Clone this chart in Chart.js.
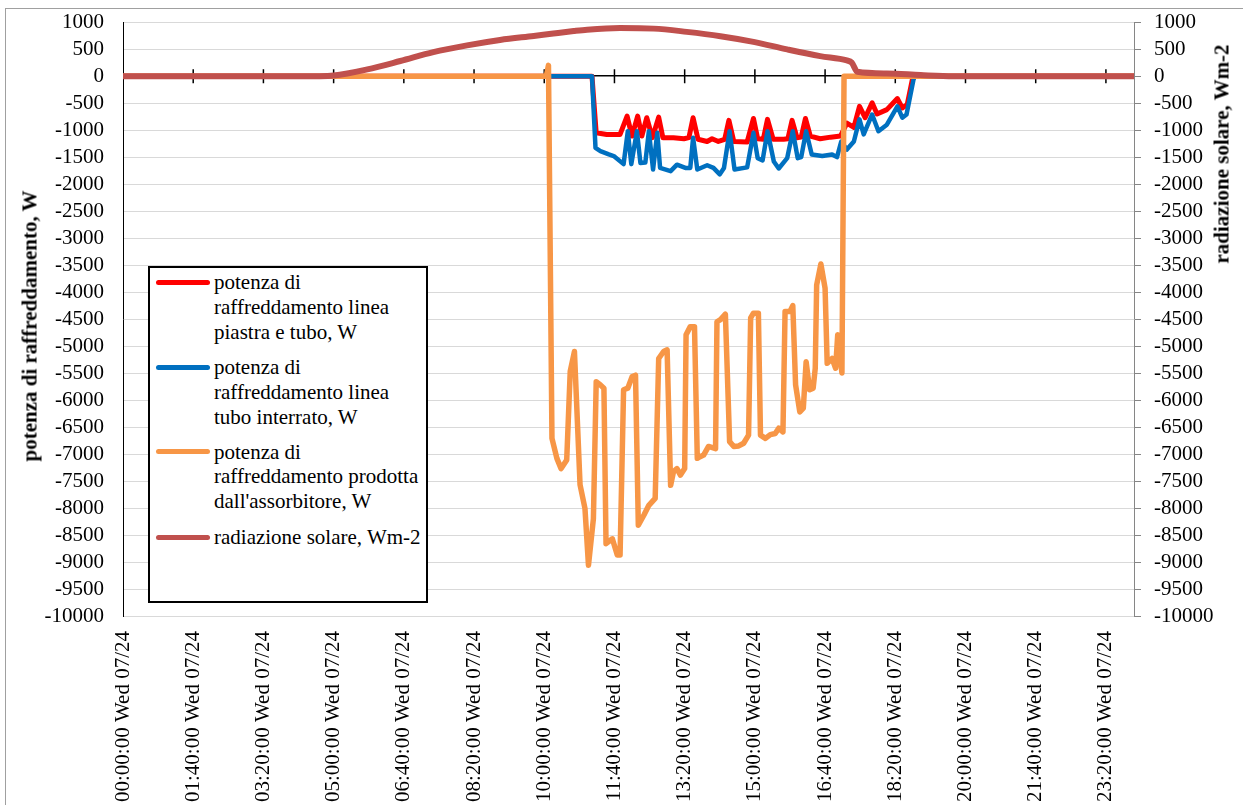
<!DOCTYPE html>
<html>
<head>
<meta charset="utf-8">
<script src="https://cdn.jsdelivr.net/npm/chart.js@4.4.1/dist/chart.umd.min.js"></script>
<style>
    html, body { margin: 0; padding: 0; background: #fff; overflow: hidden; }
    #wrap { position: relative; width: 1243px; height: 805px; overflow: hidden;
        font-family: 'Liberation Serif', 'Times New Roman', serif; color: #000; }
    #frame { position: absolute; left: 5px; top: 8px; width: 1400px; height: 1000px;
        border: 1.5px solid #a0a0a0; }
    #chart { position: absolute; left: 0; top: 0; width: 1243px; height: 805px; }
    .axis-title { position: absolute; font-weight: bold; font-size: 21px; white-space: nowrap;
        transform: translate(-50%, -50%) rotate(-90deg); }
    #legend { position: absolute; left: 148px; top: 266px; width: 280px; height: 337px;
        box-sizing: border-box; border: 2px solid #000; background: #fff; }
    #legend .sample { position: absolute; left: 6px; width: 54px; height: 5px; border-radius: 3px; }
    #legend .text { position: absolute; left: 64px; font-size: 21px; line-height: 24.7px; white-space: nowrap; }
</style>
</head>
<body>
<div id="wrap">
    <div id="frame"></div>
    <canvas id="chart" width="1243" height="805"></canvas>
    <div class="axis-title" style="left:30px; top:326px;">potenza di raffreddamento, W</div>
    <div class="axis-title" style="left:1222px; top:154px;">radiazione solare, Wm-2</div>
    <div id="legend"></div>
</div>
<script>
// minutes since 00:00, value
const redSeries = [
    [0, 0], [668, 0], [674, -1050], [689, -1080], [708, -1080], [718, -740], [725, -1110],
    [733, -740], [739, -1110], [746, -770], [754, -1140], [763, -760], [769, -1140],
    [784, -1140], [799, -1160], [806, -1140], [812, -770], [819, -1170], [832, -1210],
    [839, -1160], [848, -1210], [857, -1170], [863, -820], [870, -1210], [889, -1220],
    [898, -785], [904, -1160], [912, -1170], [918, -800], [926, -1170], [941, -1170],
    [947, -1160], [953, -820], [960, -1140], [966, -1130], [972, -785], [979, -1110],
    [993, -1160], [1008, -1130], [1022, -1110], [1031, -870], [1041, -950], [1049, -560],
    [1057, -770], [1067, -495], [1074, -700], [1088, -620], [1103, -415], [1110, -590],
    [1117, -525], [1124, -80], [1127, 0], [1440, 0]
];

const blueSeries = [
    [0, 0], [668, 0], [673, -1330], [680, -1390], [692, -1450], [699, -1480], [713, -1630],
    [719, -1020], [724, -1630], [732, -1020], [737, -1610], [744, -1600], [749, -1020],
    [755, -1730], [761, -1050], [765, -1700], [780, -1760], [789, -1640], [801, -1700],
    [808, -1700], [812, -1140], [818, -1730], [832, -1650], [841, -1700], [850, -1820],
    [856, -1700], [864, -1020], [871, -1730], [889, -1690], [898, -1050], [904, -1520],
    [911, -1560], [918, -1020], [927, -1580], [934, -1710], [946, -1520], [954, -1020],
    [961, -1520], [966, -1500], [973, -1020], [981, -1450], [996, -1480], [1010, -1450],
    [1017, -1500], [1023, -1210], [1031, -1360], [1041, -1210], [1049, -800], [1055, -1080],
    [1067, -710], [1076, -1020], [1088, -900], [1103, -560], [1110, -770], [1116, -710],
    [1126, -60], [1128, 0], [1440, 0]
];

const orangeSeries = [
    [0, 0], [603, 0], [606, 200], [611, -6710], [618, -7080], [624, -7270], [632, -7110],
    [637, -5470], [643, -5100], [651, -7570], [658, -8010], [663, -9060], [670, -8200],
    [674, -5660], [680, -5720], [685, -5780], [688, -8660], [697, -8570], [704, -8870],
    [708, -8870], [713, -5810], [719, -5780], [725, -5570], [730, -5540], [734, -8320],
    [742, -8130], [749, -7950], [758, -7820], [763, -5230], [770, -5100], [775, -5070],
    [780, -7580], [784, -7330], [789, -7270], [794, -7390], [800, -7270], [802, -4790],
    [808, -4640], [814, -4640], [818, -7080], [822, -7050], [827, -7020], [834, -6860],
    [844, -6900], [846, -4550], [851, -4510], [858, -4410], [864, -6770], [870, -6860],
    [877, -6850], [884, -6800], [891, -6650], [894, -4480], [898, -4390], [905, -4390],
    [908, -6650], [915, -6710], [922, -6640], [929, -6620], [934, -6520], [940, -6590],
    [943, -4360], [950, -4360], [954, -4250], [958, -5720], [964, -6220], [969, -6150],
    [973, -5290], [978, -5810], [983, -5780], [986, -5410], [988, -3870], [994, -3480],
    [1000, -3930], [1003, -5320], [1010, -5230], [1015, -5410], [1018, -4790], [1024, -5500],
    [1027, 0], [1440, 0]
];

const solarSeries = [
    [0, 0], [280, 0], [300, 10], [348, 125], [395, 280], [442, 445], [490, 570], [537, 670],
    [585, 745], [613, 790], [642, 835], [661, 860], [708, 890], [756, 880], [803, 820],
    [851, 740], [898, 635], [946, 495], [993, 370], [1031, 290], [1038, 250], [1046, 80],
    [1088, 50], [1136, 20], [1183, 0], [1440, 0]
];

const xTickLabels = [
    '00:00:00 Wed 07/24', '01:40:00 Wed 07/24', '03:20:00 Wed 07/24', '05:00:00 Wed 07/24',
    '06:40:00 Wed 07/24', '08:20:00 Wed 07/24', '10:00:00 Wed 07/24', '11:40:00 Wed 07/24',
    '13:20:00 Wed 07/24', '15:00:00 Wed 07/24', '16:40:00 Wed 07/24', '18:20:00 Wed 07/24',
    '20:00:00 Wed 07/24', '21:40:00 Wed 07/24', '23:20:00 Wed 07/24'
];

const legendLines = [
    ['potenza di', 'raffreddamento linea', 'piastra e tubo, W'],
    ['potenza di', 'raffreddamento linea', 'tubo interrato, W'],
    ['potenza di', 'raffreddamento prodotta', "dall'assorbitore, W"],
    ['radiazione solare, Wm-2']
];

const colors = ['#FF0000', '#0070C0', '#F79646', '#C0504D'];

Chart.defaults.font.family = "'Liberation Serif', 'Times New Roman', serif";
Chart.defaults.font.size = 21;
Chart.defaults.color = '#000';

function toPoints(series) {
    return series.map(([t, v]) => ({ x: t, y: v }));
}

// axis line through zero with cross tick marks, like the excel category axis
const zeroAxis = {
    id: 'zeroAxis',
    beforeDatasetsDraw(chart) {
        const { ctx, scales } = chart;
        const y0 = scales.y.getPixelForValue(0);
        ctx.save();
        ctx.strokeStyle = '#000';
        ctx.lineWidth = 1.5;
        ctx.beginPath();
        scales.x.ticks.forEach((t) => {
            if (t.value > 0) {
                const px = scales.x.getPixelForValue(t.value);
                ctx.moveTo(px, y0 - 7);
                ctx.lineTo(px, y0 + 7);
            }
        });
        ctx.stroke();
        ctx.restore();
    },
};

// small lineHeight keeps the tick padding from pushing the plot area down
const yTickFont = { size: 21, lineHeight: 0.3 };

const config = {
    type: 'line',
    data: {
        datasets: [
            {
                label: legendLines[0].join(' '),
                data: toPoints(redSeries),
                borderColor: colors[0],
                borderWidth: 5,
                order: 4,
            },
            {
                label: legendLines[1].join(' '),
                data: toPoints(blueSeries),
                borderColor: colors[1],
                borderWidth: 4.5,
                order: 3,
            },
            {
                label: legendLines[2].join(' '),
                data: toPoints(orangeSeries),
                borderColor: colors[2],
                borderWidth: 5.5,
                order: 2,
            },
            {
                label: legendLines[3].join(' '),
                data: toPoints(solarSeries),
                borderColor: colors[3],
                borderWidth: 6,
                cubicInterpolationMode: 'monotone',
                yAxisID: 'y2',
                order: 1,
            },
        ],
    },
    options: {
        responsive: false,
        animation: false,
        layout: { padding: { top: 22, left: 0, right: 0, bottom: 0 } },
        elements: {
            point: { radius: 0 },
            line: { borderJoinStyle: 'round', borderCapStyle: 'round', fill: false },
        },
        plugins: {
            legend: { display: false },
            tooltip: { enabled: false },
        },
        scales: {
            x: {
                type: 'linear',
                min: 0,
                max: 1440,
                border: { display: false },
                grid: { display: false, drawTicks: false },
                ticks: {
                    stepSize: 100,
                    includeBounds: false,
                    autoSkip: false,
                    minRotation: 90,
                    maxRotation: 90,
                    padding: 15,
                    callback: (value) => xTickLabels[Math.round(value / 100)],
                },
                afterFit: (scale) => { scale.height = 805 - 616; },
            },
            y: {
                position: 'left',
                min: -10000,
                max: 1000,
                ticks: { stepSize: 500, padding: 19, autoSkip: false, font: yTickFont, callback: (v) => String(v) },
                grid: {
                    drawTicks: false,
                    color: (context) => (context.tick.value === 0 ? '#000' : '#D9D9D9'),
                    lineWidth: (context) => (context.tick.value === 0 ? 1.5 : 1),
                },
                border: { display: true, color: '#000', width: 1 },
                afterFit: (scale) => { scale.width = 123; },
            },
            y2: {
                position: 'right',
                min: -10000,
                max: 1000,
                ticks: { stepSize: 500, padding: 13, autoSkip: false, font: yTickFont, callback: (v) => String(v) },
                grid: {
                    drawOnChartArea: false,
                    drawTicks: true,
                    tickLength: 7,
                    tickColor: '#868686',
                },
                border: { display: true, color: '#868686', width: 1 },
                afterFit: (scale) => { scale.width = 1243 - 1134; },
            },
        },
    },
    plugins: [zeroAxis],
};

const chart = new Chart(document.getElementById('chart'), config);

// legend box drawn as html so the labels can wrap like the original
const legendTops = [2.2, 87.2, 171.6, 257.2];
const legend = document.getElementById('legend');
legendLines.forEach((lines, i) => {
    const sample = document.createElement('div');
    sample.className = 'sample';
    sample.style.top = (legendTops[i] + 12.3 - 2.5) + 'px';
    sample.style.background = chart.data.datasets[i].borderColor;
    legend.appendChild(sample);
    const text = document.createElement('div');
    text.className = 'text';
    text.style.top = legendTops[i] + 'px';
    text.innerHTML = lines.map((l) => l.replace(/&/g, '&amp;')).join('<br>');
    legend.appendChild(text);
});
</script>
</body>
</html>
